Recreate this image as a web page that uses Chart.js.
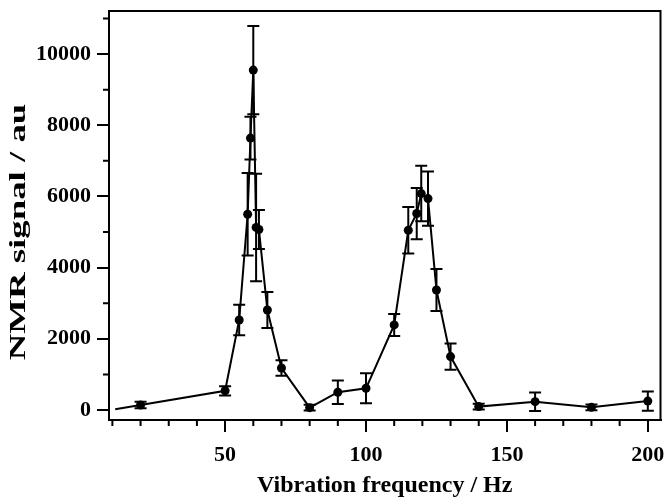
<!DOCTYPE html>
<html>
<head>
<meta charset="utf-8">
<script src="https://cdn.jsdelivr.net/npm/chart.js@4/dist/chart.umd.min.js"></script>
<style>
  html, body { margin: 0; padding: 0; background: #fff; }
</style>
</head>
<body>
<canvas id="nmrchart" width="665" height="497"></canvas>
<script>
// vibration frequency (Hz), NMR signal (au) and error bar half-heights
var freqs  = [11, 20, 50, 55, 58, 59, 60, 61, 62, 65, 70, 80, 90, 100, 110, 115, 118, 119.6, 122, 125, 130, 140, 160, 180, 200];
var signal = [20, 140, 540, 2530, 5500, 7640, 9550, 5130, 5070, 2810, 1180, 65, 500, 610, 2390, 5050, 5520, 6080, 5940, 3370, 1500, 95, 235, 75, 250];
var errors = [0, 90, 130, 430, 1160, 600, 1240, 1510, 550, 505, 215, 80, 330, 420, 310, 650, 720, 780, 760, 590, 370, 80, 260, 80, 270];
var xMajor = [50, 100, 150, 200];
var yMajor = [0, 2000, 4000, 6000, 8000, 10000];
var yTitle = 'NMR signal / au';

var points = [];
var radii = [];
for (var i in freqs) {
    points.push({x: freqs[i], y: signal[i]});
    radii.push(errors[i] ? 4.5 : 0);
}

var serif = "'Liberation Serif', 'Times New Roman', serif";
var tickFont = {family: serif, size: 22, weight: 'bold'};
var titleFont = {family: serif, size: 24, weight: 'bold', lineHeight: 1};

var framePlugin = {
    id: 'frame',
    beforeDatasetsDraw: function(chart) {
        var ctx = chart.ctx, xs = chart.scales.x, ys = chart.scales.y;
        ctx.save();
        ctx.strokeStyle = '#000';
        ctx.lineWidth = 2;
        for (var i = 0; i < freqs.length; i++) {
            if (!errors[i]) continue;
            var px = xs.getPixelForValue(freqs[i]);
            var top = ys.getPixelForValue(signal[i] + errors[i]);
            var bot = ys.getPixelForValue(signal[i] - errors[i]);
            ctx.beginPath();
            ctx.moveTo(px, top); ctx.lineTo(px, bot);
            ctx.moveTo(px - 6, top); ctx.lineTo(px + 6, top);
            ctx.moveTo(px - 6, bot); ctx.lineTo(px + 6, bot);
            ctx.stroke();
        }
        ctx.restore();
    },
    afterDraw: function(chart) {
        var ctx = chart.ctx, xs = chart.scales.x, ys = chart.scales.y, a = chart.chartArea;
        ctx.save();
        ctx.strokeStyle = '#000';
        ctx.lineWidth = 2;
        ctx.strokeRect(a.left, a.top, a.right - a.left, a.bottom - a.top);
        ctx.beginPath();
        // minor ticks
        for (var f = 10; f <= 200; f += 10) {
            if (f % 50 === 0) continue;
            var px = xs.getPixelForValue(f);
            ctx.moveTo(px, a.bottom); ctx.lineTo(px, a.bottom + 6);
        }
        for (var v = 1000; v <= 11000; v += 2000) {
            var py = ys.getPixelForValue(v);
            ctx.moveTo(a.left - 6, py); ctx.lineTo(a.left, py);
        }
        ctx.stroke();
        // y title, stretched along its baseline like the original
        ctx.translate(25, 232);
        ctx.rotate(-Math.PI / 2);
        ctx.scale(1.6, 1);
        ctx.fillStyle = '#000';
        ctx.font = 'bold 23px ' + serif;
        ctx.textAlign = 'center';
        ctx.textBaseline = 'alphabetic';
        ctx.fillText(yTitle, 0, 0);
        ctx.restore();
    }
};

var ctx = document.getElementById('nmrchart').getContext('2d');
var nmrChart = new Chart(ctx, {
    type: 'line',
    data: {
        datasets: [{
            label: 'NMR signal',
            data: points,
            borderColor: '#000',
            backgroundColor: '#000',
            borderWidth: 2,
            pointRadius: radii,
            pointBackgroundColor: '#000',
            pointBorderWidth: 0,
            tension: 0
        }]
    },
    options: {
        responsive: false,
        animation: false,
        layout: {padding: {top: 11, right: 4, left: 0, bottom: 0}},
        plugins: {legend: {display: false}, tooltip: {enabled: false}},
        scales: {
            x: {
                type: 'linear',
                min: 8.8,
                max: 204.5,
                afterBuildTicks: function(scale) {
                    scale.ticks = xMajor.map(function(v) { return {value: v}; });
                },
                afterFit: function(scale) {
                    scale.height = 77;
                    scale.paddingLeft = 0;
                    scale.paddingRight = 0;
                },
                grid: {drawOnChartArea: false, drawTicks: true, tickLength: 12, color: '#000', lineWidth: 2},
                border: {display: true, color: '#000', width: 2},
                ticks: {color: '#000', font: tickFont, padding: 10, maxRotation: 0,
                        callback: function(v) { return String(v); }},
                title: {display: true, text: 'Vibration frequency / Hz', color: '#000', font: titleFont, padding: {top: 4, bottom: -1}}
            },
            y: {
                type: 'linear',
                min: -281,
                max: 11210,
                afterBuildTicks: function(scale) {
                    scale.ticks = yMajor.map(function(v) { return {value: v}; });
                },
                afterFit: function(scale) {
                    scale.width = 109;
                    scale.paddingTop = 0;
                    scale.paddingBottom = 0;
                },
                grid: {drawOnChartArea: false, drawTicks: true, tickLength: 12, color: '#000', lineWidth: 2},
                border: {display: true, color: '#000', width: 2},
                ticks: {color: '#000', font: tickFont, padding: 6,
                        callback: function(v) { return String(v); }}
            }
        }
    },
    plugins: [framePlugin]
});
</script>
</body>
</html>
